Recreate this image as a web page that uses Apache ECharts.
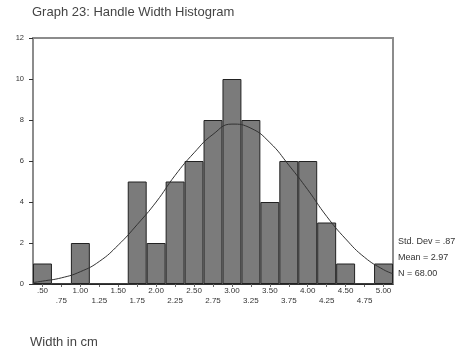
<!DOCTYPE html>
<html><head><meta charset="utf-8">
<script src="https://cdn.jsdelivr.net/npm/echarts@6/dist/echarts.min.js"></script>
<style>html,body{margin:0;padding:0;background:#fff}#c{width:466px;height:356px}</style>
</head><body><div id="c"></div>
<script>
// Bin labels (bin centres, width .25)
const binLabels = ['.50','.75','1.00','1.25','1.50','1.75','2.00','2.25','2.50','2.75','3.00','3.25','3.50','3.75','4.00','4.25','4.50','4.75','5.00'];
// Frequencies per bin
const counts = [1,0,2,0,0,5,2,5,6,8,10,8,4,6,6,3,1,0,1];
// Fitted normal curve
const curveX = [0.375,0.5,0.75,1.0,1.25,1.5,1.75,2.0,2.25,2.5,2.75,3.0,3.25,3.5,3.75,4.0,4.25,4.5,4.75,5.0,5.125];
const curveY = [0.07,0.14,0.3,0.6,1.1,1.9,2.9,4.0,5.3,6.4,7.3,7.8,7.6,6.9,5.8,4.6,3.3,2.2,1.3,0.7,0.5];
const yTicks = [0,2,4,6,8,10,12];
const statLines = ['Std. Dev = .87','Mean = 2.97','N = 68.00'];
const titleText = 'Graph 23: Handle Width Histogram';
const xName = 'Width in cm';

const chart = echarts.init(document.getElementById('c'), null, {renderer:'canvas'});
const font = 'Liberation Sans, Arial, sans-serif';
chart.setOption({
  animation:false,
  backgroundColor:'#fff',
  grid:{left:33,right:73,top:38,bottom:72,show:true,borderColor:'#8c8c8c',borderWidth:2,backgroundColor:'transparent'},
  graphic:[
    {type:'text',left:32,top:6,style:{text:titleText,font:'13px '+font,fill:'#444'}},
    {type:'text',left:30,top:336,style:{text:xName,font:'13px '+font,fill:'#444'}},
    {type:'text',left:398,top:234,style:{text:statLines.join('\n'),font:'9px '+font,fill:'#333',lineHeight:16}}
  ],
  xAxis:[
    {type:'category',data:binLabels,boundaryGap:true,
     axisLine:{show:true,lineStyle:{color:'#333',width:1}},
     axisTick:{show:true,alignWithLabel:true,length:3,lineStyle:{color:'#666'}},
     axisLabel:{interval:0,fontSize:8,fontFamily:font,color:'#333',margin:2,lineHeight:10,
       formatter:(v,i)=> i%2===0 ? v : '\n'+v},
     splitLine:{show:false}},
    {type:'value',min:0.375,max:5.125,show:false}
  ],
  yAxis:{type:'value',min:0,max:12,interval:2,
    axisLine:{show:true,lineStyle:{color:'#8c8c8c',width:2}},
    axisTick:{show:true,length:4,lineStyle:{color:'#333'}},
    axisLabel:{fontSize:7.5,fontFamily:font,color:'#333',margin:9,
      formatter:v=> yTicks.includes(v)? String(v):''},
    splitLine:{show:false}},
  series:[
    {type:'bar',xAxisIndex:0,data:counts,barCategoryGap:'0%',
     itemStyle:{color:'#7b7b7b',borderColor:'#222',borderWidth:1},silent:true},
    {type:'line',xAxisIndex:1,data:curveX.map((x,i)=>[x,curveY[i]]),smooth:true,showSymbol:false,
     lineStyle:{color:'#333',width:1},silent:true,z:5}
  ]
});
</script></body></html>
